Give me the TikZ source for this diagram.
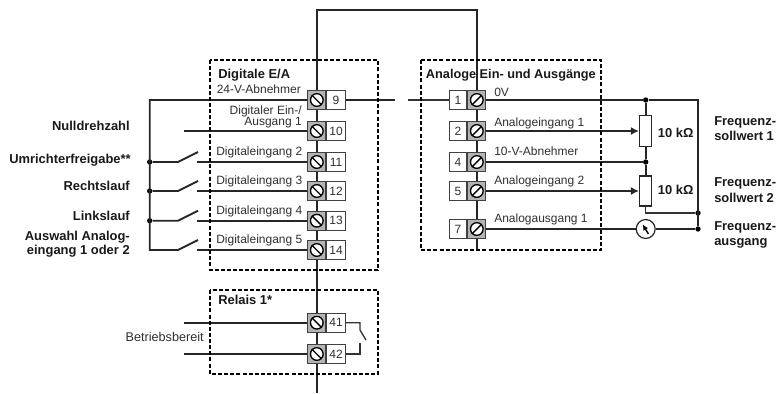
\documentclass[tikz,border=0pt]{standalone}
\usepackage{fontspec}
\setmainfont{Liberation Sans}
\usetikzlibrary{arrows.meta}
\definecolor{txt}{HTML}{303030}
\definecolor{screwgrey}{HTML}{B4B4B4}
\tikzset{
  wire/.style={line width=1.4pt,draw=black!85},
  thinwire/.style={line width=1pt,draw=black!80},
  group/.style={line width=1.3pt,draw=black,dash pattern=on 3pt off 1.6pt},
  screwbox/.style={draw=black!75,line width=0.75pt,fill=screwgrey,minimum width=13.4pt,minimum height=14.2pt,inner sep=0pt},
  numbox/.style={draw=black!75,line width=0.75pt,fill=white,minimum width=14pt,minimum height=14.2pt,inner sep=0pt,font=\fontsize{9}{9}\selectfont,text=txt},
  head/.style={circle,draw=black,line width=1pt,fill=white,minimum size=9.5pt,inner sep=0pt},
  lbl/.style={inner sep=0pt,font=\fontsize{9}{9}\selectfont,text=txt},
  bold/.style={inner sep=0pt,font=\fontsize{9.7}{9.7}\selectfont\bfseries,text=black!90},
  boldsm/.style={inner sep=0pt,font=\fontsize{9.55}{9.55}\selectfont\bfseries,text=black!90},
  dot/.style={circle,fill=black,minimum size=4pt,inner sep=0pt},
  pot/.style={draw=black!85,line width=0.9pt,fill=white,minimum width=9.2pt,inner sep=0pt},
  meter/.style={circle,draw=black!85,line width=0.9pt,fill=white,minimum size=14.2pt,inner sep=0pt},
  tip/.style={-{Latex[length=6pt,width=6pt]}}
}
% left-side terminal: screw at left, number at right
\newcommand{\termL}[2]{%
  \node[screwbox] (s#1) at (316.8,#2) {};
  \node[numbox,anchor=west] (n#1) at (s#1.east) {#1};
  \node[head] (h#1) at (s#1) {};
  \draw[line width=1pt] (h#1.135) -- (h#1.-45);
}
% right-side terminal: number at left, screw at right
\newcommand{\termR}[2]{%
  \node[screwbox] (s#1) at (476.8,#2) {};
  \node[numbox,anchor=east,minimum width=13.4pt] (n#1) at (s#1.west) {#1};
  \node[head] (h#1) at (s#1) {};
  \draw[line width=1pt] (h#1.45) -- (h#1.-135);
}
\begin{document}
\begin{tikzpicture}[x=0.75pt,y=-0.75pt]
\useasboundingbox (0,0) rectangle (777,393);
\fill[white] (0,0) rectangle (777,393);

% named points
\coordinate (topL) at (316.8,10);
\coordinate (topR) at (476.8,10);
\coordinate (botL) at (316.8,392.5);
\coordinate (botR) at (476.8,250);
\coordinate (gapA) at (395,100);
\coordinate (gapB) at (408,100);
\coordinate (busT) at (149.7,100);
\coordinate (busB) at (149.7,250);
\coordinate (w10) at (184,131);
\coordinate (w41) at (184,322.7);
\coordinate (w42) at (184,354);
\coordinate (cor0) at (698,100);

% backbone lines
\draw[wire] (botL) -- (topL) -- (topR) -- (botR);

% terminals, left
\termL{9}{100}
\termL{10}{131}
\termL{11}{162}
\termL{12}{191}
\termL{13}{220.7}
\termL{14}{250}
\termL{41}{322.7}
\termL{42}{354}
% terminals, right
\termR{1}{100}
\termR{2}{131}
\termR{4}{162}
\termR{5}{191}
\termR{7}{229}

% dots and parts
\node[dot] (d0) at (645.7,100) {};
\node[dot] (d4) at (645.7,162) {};
\node[dot] (dp) at (698,213) {};
\node[dot] (dm) at (698,229) {};
\node[pot,minimum height=23.8pt] (p1) at (645.7,131) {};
\node[pot,minimum height=22.6pt] (p2) at (645.7,191) {};
\node[meter] (m) at (645.7,229) {};
\node[dot] (b11) at (149.7,162) {};
\node[dot] (b12) at (149.7,191) {};
\node[dot] (b13) at (149.7,220.7) {};

% left wiring
\draw[wire] (s9.west) -- (busT) -- (busB) -- (178,250) -- (198,240);
\draw[wire] (s10.west) -- (w10);
\draw[wire] (b11) -- (178,162) -- (198,152);
\draw[wire] (b12) -- (178,191) -- (198,181);
\draw[wire] (b13) -- (178,220.7) -- (198,210.7);
\draw[wire] (s11.west) -- (197,162);
\draw[wire] (s12.west) -- (197,191);
\draw[wire] (s13.west) -- (197,220.7);
\draw[wire] (s14.west) -- (197,250);
\draw[wire] (s41.west) -- (w41);
\draw[wire] (s42.west) -- (w42);

% relay contact
\draw[thinwire] (n41.east) -- (360,322.7) -- (360,330) -- (366,340);
\draw[thinwire] (n42.east) -- (360,354) -- (360,343);

% link 9 - 1
\draw[wire] (n9.east) -- (gapA);
\draw[thinwire] (gapB) -- (n1.west);

% right wiring
\draw[wire] (s1.east) -- (d0);
\draw[wire] (d0) -- (cor0) -- (dm);
\draw[wire] (d0) -- (p1.north);
\draw[wire] (p1.south) -- (d4);
\draw[wire] (d4) -- (p2.north);
\draw[thinwire] (p2.south) |- (dp);
\draw[wire] (s4.east) -- (d4);
\draw[wire,tip] (s2.east) -- (p1.west);
\draw[wire,tip] (s5.east) -- (p2.west);
\draw[wire] (s7.east) -- (m.west);
\draw[wire] (m.east) -- (dm);
\coordinate (nA) at (648.4,234);
\coordinate (nB) at (642.6,224.2);
\draw[line width=1.1pt,-{Latex[length=4.5pt,width=4pt]}] (nA) -- (nB);

% dashed groups
\draw[group] (210,60) rectangle (378,270);
\draw[group] (421,60) rectangle (601,250);
\draw[group] (210,290) rectangle (378,374);

% labels in the groups
\node[bold,anchor=mid west] (t1) at (218,74.5) {Digitale E/A};
\node[bold,anchor=mid west] (t2) at (218,301) {Relais 1*};
\node[boldsm,anchor=mid west] (t3) at (425.7,74.5) {Analoge Ein- und Ausgänge};
\node[lbl,anchor=mid west] (l9) at (216.5,90) {24-V-Abnehmer};
\node[lbl,anchor=mid east] (l10a) at (302,111) {Digitaler Ein-/};
\node[lbl,anchor=mid east] (l10b) at (302,122) {Ausgang 1};
\node[lbl,anchor=mid west] (l11) at (216,152) {Digitaleingang 2};
\node[lbl,anchor=mid west] (l12) at (216,181) {Digitaleingang 3};
\node[lbl,anchor=mid west] (l13) at (216,211) {Digitaleingang 4};
\node[lbl,anchor=mid west] (l14) at (216,240) {Digitaleingang 5};
\node[lbl,anchor=mid east,font=\fontsize{9.5}{9.5}\selectfont] (lb) at (204,338) {Betriebsbereit};
\node[lbl,anchor=mid west] (r1) at (494,93) {0V};
\node[lbl,anchor=mid west] (r2) at (494,123) {Analogeingang 1};
\node[lbl,anchor=mid west] (r4) at (494,152) {10-V-Abnehmer};
\node[lbl,anchor=mid west] (r5) at (494,181) {Analogeingang 2};
\node[lbl,anchor=mid west] (r7) at (494,219) {Analogausgang 1};

% outer labels
\node[bold,anchor=mid east] (o1) at (130,127) {Nulldrehzahl};
\node[bold,anchor=mid east] (o2) at (131,160) {Umrichterfreigabe**};
\node[bold,anchor=mid east] (o3) at (130,187) {Rechtslauf};
\node[bold,anchor=mid east] (o4) at (130,217) {Linkslauf};
\node[bold,anchor=mid east] (o5) at (130,237) {Auswahl Analog-};
\node[bold,anchor=mid east] (o6) at (130,251) {eingang 1 oder 2};
\node[bold,anchor=mid west] (k1) at (657.7,134) {10 kΩ};
\node[bold,anchor=mid west] (k2) at (657.7,191) {10 kΩ};
\node[bold,anchor=mid west] (f1) at (714,122) {Frequenz-};
\node[bold,anchor=mid west] (f2) at (714,137) {sollwert 1};
\node[bold,anchor=mid west] (f3) at (714,183) {Frequenz-};
\node[bold,anchor=mid west] (f4) at (714,199) {sollwert 2};
\node[bold,anchor=mid west] (f5) at (714,227) {Frequenz-};
\node[bold,anchor=mid west] (f6) at (714,242) {ausgang};
\end{tikzpicture}
\end{document}
